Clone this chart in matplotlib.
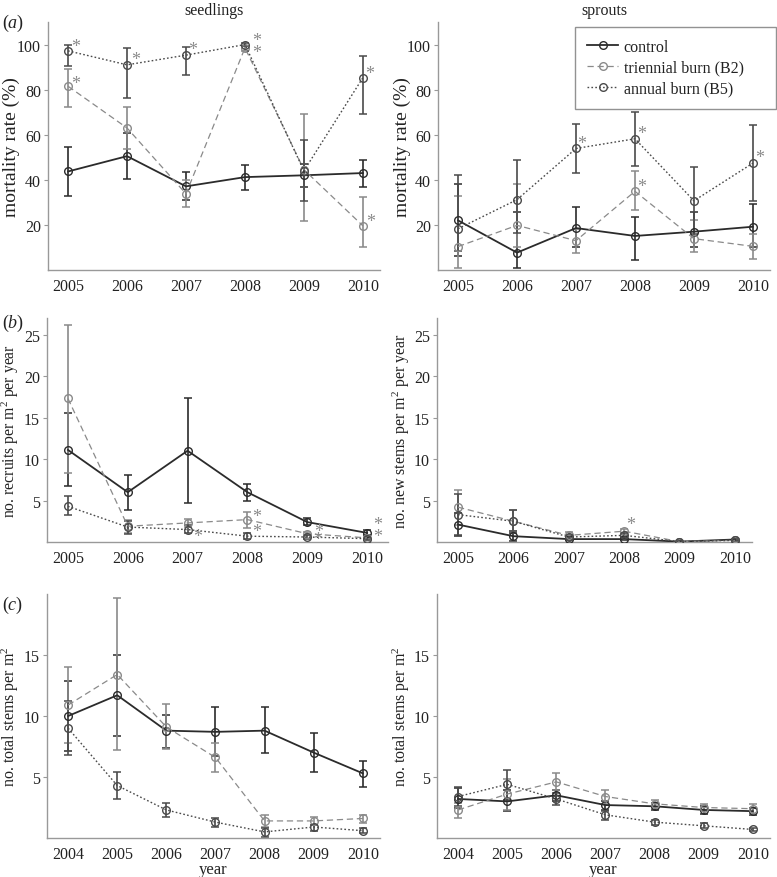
import matplotlib
matplotlib.use('Agg')
import matplotlib.pyplot as plt
from matplotlib.lines import Line2D

plt.rcParams['font.family'] = ['Liberation Serif', 'DejaVu Serif']
plt.rcParams['mathtext.fontset'] = 'custom'
plt.rcParams['mathtext.rm'] = 'Liberation Serif'
plt.rcParams['mathtext.it'] = 'Liberation Serif:italic'

years6 = [2005, 2006, 2007, 2008, 2009, 2010]
years7 = [2004, 2005, 2006, 2007, 2008, 2009, 2010]
labels = ['control', 'triennial burn (B2)', 'annual burn (B5)']

# (a) mortality rate (%), seedlings
seed_mort_ctrl = [43.7, 50.5, 37.1, 41.2, 42.0, 43.0]
seed_mort_ctrl_lo = [32.8, 40.3, 31.0, 35.7, 37.0, 36.8]
seed_mort_ctrl_hi = [54.5, 60.6, 43.4, 46.5, 47.0, 48.9]
seed_mort_tri = [81.5, 63.0, 33.8, 98.5, 44.5, 19.6]
seed_mort_tri_lo = [72.4, 53.5, 28.0, 97.0, 21.7, 10.2]
seed_mort_tri_hi = [89.0, 72.2, 39.7, 99.5, 69.3, 32.2]
seed_mort_ann = [97.2, 91.0, 95.3, 100.0, 44.0, 85.3]
seed_mort_ann_lo = [90.5, 76.4, 86.7, 99.5, 30.6, 69.0]
seed_mort_ann_hi = [99.7, 98.4, 99.0, 100.5, 57.6, 95.1]

# (a) mortality rate (%), sprouts
spr_mort_ctrl = [22.0, 7.7, 18.6, 15.1, 17.0, 19.2]
spr_mort_ctrl_lo = [6.0, 0.8, 10.0, 4.4, 10.0, 10.0]
spr_mort_ctrl_hi = [38.0, 25.7, 27.9, 23.5, 25.7, 29.1]
spr_mort_tri = [10.4, 19.8, 13.0, 34.9, 13.9, 10.5]
spr_mort_tri_lo = [1.1, 10.0, 7.7, 26.7, 8.0, 5.0]
spr_mort_tri_hi = [32.8, 38.3, 18.0, 43.9, 22.0, 16.0]
spr_mort_ann = [18.3, 31.2, 53.9, 58.2, 30.7, 47.4]
spr_mort_ann_lo = [8.4, 16.6, 43.1, 46.1, 16.0, 30.7]
spr_mort_ann_hi = [42.0, 49.0, 64.7, 70.0, 45.5, 64.1]

# (b) recruits per m2 per year, seedlings
seed_rec_ctrl = [11.1, 6.0, 11.0, 6.0, 2.4, 1.1]
seed_rec_ctrl_lo = [6.8, 3.9, 4.7, 4.9, 2.0, 0.8]
seed_rec_ctrl_hi = [15.5, 8.1, 17.4, 7.0, 2.9, 1.4]
seed_rec_tri = [17.3, 1.9, 2.3, 2.7, 1.0, 0.5]
seed_rec_tri_lo = [8.3, 1.1, 1.8, 1.7, 0.8, 0.3]
seed_rec_tri_hi = [26.2, 2.6, 2.8, 3.6, 1.2, 0.7]
seed_rec_ann = [4.3, 1.8, 1.5, 0.7, 0.6, 0.4]
seed_rec_ann_lo = [3.2, 1.0, 1.1, 0.4, 0.4, 0.3]
seed_rec_ann_hi = [5.5, 2.5, 2.0, 1.1, 0.8, 0.5]

# (b) new stems per m2 per year, sprouts
spr_new_ctrl = [2.1, 0.7, 0.35, 0.35, 0.05, 0.3]
spr_new_ctrl_lo = [0.7, 0.1, 0.2, 0.2, 0.0, 0.2]
spr_new_ctrl_hi = [3.5, 1.3, 0.6, 0.6, 0.1, 0.4]
spr_new_tri = [4.2, 2.5, 0.8, 1.3, 0.05, 0.2]
spr_new_tri_lo = [2.1, 1.1, 0.4, 1.0, 0.0, 0.1]
spr_new_tri_hi = [6.3, 3.9, 1.2, 1.6, 0.1, 0.3]
spr_new_ann = [3.3, 2.5, 0.6, 0.8, 0.05, 0.2]
spr_new_ann_lo = [0.8, 1.1, 0.3, 0.5, 0.0, 0.1]
spr_new_ann_hi = [5.8, 3.9, 0.9, 1.1, 0.1, 0.3]

# (c) total stems per m2, seedlings
seed_tot_ctrl = [10.0, 11.7, 8.8, 8.7, 8.8, 7.0, 5.3]
seed_tot_ctrl_lo = [7.1, 8.4, 7.4, 6.7, 7.0, 5.4, 4.2]
seed_tot_ctrl_hi = [12.9, 15.0, 10.1, 10.7, 10.7, 8.6, 6.3]
seed_tot_tri = [10.9, 13.4, 9.1, 6.6, 1.4, 1.4, 1.6]
seed_tot_tri_lo = [7.8, 7.2, 7.3, 5.4, 0.9, 1.1, 1.2]
seed_tot_tri_hi = [14.0, 19.7, 11.0, 7.8, 1.9, 1.7, 1.9]
seed_tot_ann = [9.0, 4.3, 2.3, 1.3, 0.5, 0.9, 0.6]
seed_tot_ann_lo = [6.8, 3.2, 1.7, 0.9, 0.1, 0.6, 0.4]
seed_tot_ann_hi = [11.2, 5.4, 2.9, 1.6, 0.8, 1.1, 0.8]

# (c) total stems per m2, sprouts
spr_tot_ctrl = [3.2, 3.0, 3.5, 2.7, 2.6, 2.3, 2.2]
spr_tot_ctrl_lo = [2.5, 2.2, 3.0, 2.3, 2.3, 2.0, 1.9]
spr_tot_ctrl_hi = [4.1, 3.9, 3.9, 3.0, 2.9, 2.6, 2.5]
spr_tot_tri = [2.3, 3.6, 4.6, 3.4, 2.8, 2.5, 2.4]
spr_tot_tri_lo = [1.6, 2.3, 3.9, 2.8, 2.5, 2.2, 2.0]
spr_tot_tri_hi = [2.9, 4.8, 5.3, 3.9, 3.1, 2.8, 2.8]
spr_tot_ann = [3.4, 4.4, 3.2, 1.9, 1.3, 1.0, 0.7]
spr_tot_ann_lo = [2.6, 3.1, 2.7, 1.5, 1.1, 0.8, 0.6]
spr_tot_ann_hi = [4.2, 5.6, 3.7, 2.2, 1.5, 1.2, 0.8]

# significance stars: (series index, year, dx px, dy px)
stars_a_seed = [(2, 2005, 8, 7), (1, 2005, 8, 6), (2, 2006, 9, 8), (2, 2007, 7, 8),
                (2, 2008, 12, 7), (1, 2008, 12, -2), (2, 2010, 7, 7), (1, 2010, 8, 7)]
stars_a_spr = [(2, 2007, 6, 8), (2, 2008, 7, 8), (1, 2008, 7, 8), (2, 2010, 7, 8)]
stars_b_seed = [(2, 2007, 10, -4), (1, 2008, 9, 6), (2, 2008, 9, 7), (1, 2009, 11, 5),
                (2, 2009, 10, 0), (1, 2010, 11, 16), (2, 2010, 11, 5)]
stars_b_spr = [(1, 2008, 7, 9)]

styles = [dict(ls='-', color='#2b2b2b', lw=1.3),
          dict(ls=(0, (5, 3)), color='#8a8a8a', lw=0.9),
          dict(ls=(0, (1.2, 1.6)), color='#4a4a4a', lw=1.0)]

W, H = 777, 878
fig = plt.figure(figsize=(W / 100, H / 100), dpi=100)


def px_axes(l, t, r, b):
    ax = fig.add_axes([l / W, 1 - b / H, (r - l) / W, (b - t) / H])
    ax._px = (l, r)
    return ax


def draw_panel(ax, years, series, xlim, ylim, yticks, ylabel, label_right, label_size,
               stars=(), xlabel=None):
    for i, (m, lo, hi) in enumerate(series):
        st = styles[i]
        err = [[mi - l for mi, l in zip(m, lo)], [h - mi for mi, h in zip(m, hi)]]
        ax.errorbar(years, m, yerr=err, fmt='none', ecolor=st['color'],
                    elinewidth=1.2, capsize=3, capthick=1.1, zorder=2)
        ax.plot(years, m, ls=st['ls'], color=st['color'], lw=st['lw'],
                marker='o', ms=5.5, mfc='none', mec=st['color'], mew=1.0, zorder=3)
    for si, yr, dx, dy in stars:
        yv = series[si][0][years.index(yr)]
        ax.annotate('*', (yr, yv), xytext=(dx * 0.72, dy * 0.72 - 2),
                    textcoords='offset points', ha='center', va='center',
                    fontsize=13, color='#8a8a8a')
    ax.set_xlim(*xlim)
    ax.set_ylim(*ylim)
    ax.set_xticks(years)
    ax.set_yticks(yticks)
    for s in ['top', 'right']:
        ax.spines[s].set_visible(False)
    for s in ['left', 'bottom']:
        ax.spines[s].set_color('#999999')
        ax.spines[s].set_linewidth(1.0)
    ax.tick_params(axis='x', length=0, labelsize=11.5, pad=6, colors='#222222')
    ax.tick_params(axis='y', length=3, color='#999999', labelsize=11.5, pad=2)
    ax.tick_params(axis='y', labelcolor='#222222')
    ax.set_ylabel(ylabel, fontsize=label_size, color='#222222')
    l, r = ax._px
    ax.yaxis.set_label_coords((label_right - l) / (r - l), 0.5)
    if xlabel:
        ax.set_xlabel(xlabel, fontsize=12, color='#222222', labelpad=-1)


ax1 = px_axes(48, 23, 380, 271)
draw_panel(ax1, years6,
           [(seed_mort_ctrl, seed_mort_ctrl_lo, seed_mort_ctrl_hi),
            (seed_mort_tri, seed_mort_tri_lo, seed_mort_tri_hi),
            (seed_mort_ann, seed_mort_ann_lo, seed_mort_ann_hi)],
           (2004.66, 2010.29), (0, 110), [20, 40, 60, 80, 100],
           'mortality rate (%)', 20, 14, stars_a_seed)
ax1.set_title('seedlings', fontsize=11.5, color='#222222', pad=6)

ax2 = px_axes(438, 23, 770, 271)
draw_panel(ax2, years6,
           [(spr_mort_ctrl, spr_mort_ctrl_lo, spr_mort_ctrl_hi),
            (spr_mort_tri, spr_mort_tri_lo, spr_mort_tri_hi),
            (spr_mort_ann, spr_mort_ann_lo, spr_mort_ann_hi)],
           (2004.66, 2010.29), (0, 110), [20, 40, 60, 80, 100],
           'mortality rate (%)', 411, 14, stars_a_spr)
ax2.set_title('sprouts', fontsize=11.5, color='#222222', pad=6)

handles = [Line2D([], [], ls=st['ls'], color=st['color'], lw=st['lw'], marker='o',
                  ms=5.5, mfc='none', mec=st['color']) for st in styles]
leg = fig.legend(handles, labels, loc='upper left',
                 bbox_to_anchor=(575 / W, 1 - 102 / H, 201 / W, 74 / H), mode='expand',
                 fontsize=11.5, frameon=True, fancybox=False, handlelength=1.95,
                 borderpad=0.75, labelspacing=0.3, handletextpad=0.35, borderaxespad=0)
leg.get_frame().set_edgecolor('#777777')
leg.get_frame().set_linewidth(1.0)
for t in leg.get_texts():
    t.set_color('#222222')

ax3 = px_axes(47, 319, 388, 543)
draw_panel(ax3, years6,
           [(seed_rec_ctrl, seed_rec_ctrl_lo, seed_rec_ctrl_hi),
            (seed_rec_tri, seed_rec_tri_lo, seed_rec_tri_hi),
            (seed_rec_ann, seed_rec_ann_lo, seed_rec_ann_hi)],
           (2004.65, 2010.35), (0, 27), [5, 10, 15, 20, 25],
           'no. recruits per m$^2$ per year', 21, 11.3, stars_b_seed)

ax4 = px_axes(437, 319, 752, 543)
draw_panel(ax4, years6,
           [(spr_new_ctrl, spr_new_ctrl_lo, spr_new_ctrl_hi),
            (spr_new_tri, spr_new_tri_lo, spr_new_tri_hi),
            (spr_new_ann, spr_new_ann_lo, spr_new_ann_hi)],
           (2004.62, 2010.31), (0, 27), [5, 10, 15, 20, 25],
           'no. new stems per m$^2$ per year', 412, 11.5, stars_b_spr)

ax5 = px_axes(47, 595, 380, 839)
draw_panel(ax5, years7,
           [(seed_tot_ctrl, seed_tot_ctrl_lo, seed_tot_ctrl_hi),
            (seed_tot_tri, seed_tot_tri_lo, seed_tot_tri_hi),
            (seed_tot_ann, seed_tot_ann_lo, seed_tot_ann_hi)],
           (2003.57, 2010.35), (0, 20), [5, 10, 15],
           'no. total stems per m$^2$', 21, 11.5, xlabel='year')

ax6 = px_axes(437, 595, 770, 839)
draw_panel(ax6, years7,
           [(spr_tot_ctrl, spr_tot_ctrl_lo, spr_tot_ctrl_hi),
            (spr_tot_tri, spr_tot_tri_lo, spr_tot_tri_hi),
            (spr_tot_ann, spr_tot_ann_lo, spr_tot_ann_hi)],
           (2003.57, 2010.35), (0, 20), [5, 10, 15],
           'no. total stems per m$^2$', 412, 11.5, xlabel='year')

for lab, y in [('a', 23), ('b', 323), ('c', 605)]:
    fig.text(2 / W, 1 - y / H, '($\\it{%s}$)' % lab, fontsize=13, color='#222222',
             ha='left', va='center')

fig.savefig('out.png', dpi=100)
